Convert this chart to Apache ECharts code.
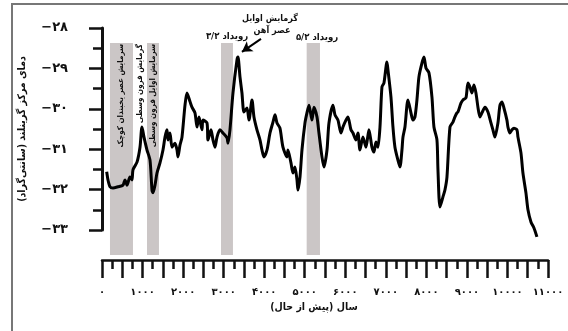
<!DOCTYPE html>
<html><head><meta charset="utf-8">
<script src="https://cdn.jsdelivr.net/npm/echarts@6/dist/echarts.min.js"></script>
<style>html,body{margin:0;padding:0;background:#fff}#c{width:568px;height:331px}</style>
</head><body><div id="c"></div>
<script>
// years before present
const years = [116,148,197,271,395,518,567,617,690,740,764,863,937,986,1036,1110,1184,1233,1258,1307,1356,1430,1504,1554,1603,1628,1677,1726,1800,1850,1874,1923,1973,2047,2096,2170,2219,2293,2343,2392,2466,2491,2589,2614,2688,2737,2787,2836,2910,2984,3083,3107,3156,3230,3329,3354,3403,3452,3502,3576,3625,3699,3748,3822,3896,3946,3995,4069,4143,4217,4266,4316,4389,4463,4562,4587,4661,4710,4759,4809,4833,4883,4932,5006,5055,5105,5179,5228,5302,5351,5425,5475,5549,5598,5696,5746,5820,5894,5943,6017,6066,6140,6190,6264,6313,6362,6436,6510,6584,6658,6707,6757,6806,6856,6905,6954,7028,7053,7127,7176,7225,7299,7349,7398,7423,7472,7546,7620,7669,7719,7768,7817,7891,7941,7990,8064,8138,8187,8261,8286,8335,8409,8458,8508,8582,8656,8705,8754,8779,8853,8902,8976,9026,9075,9124,9174,9223,9272,9321,9371,9445,9519,9593,9642,9691,9765,9815,9864,9913,9987,10012,10061,10111,10160,10234,10259,10333,10382,10456,10506,10580,10654,10727];
// central Greenland temperature (°C)
const temps = [-31.56,-31.76,-31.93,-31.96,-31.93,-31.89,-31.76,-31.89,-31.69,-31.76,-31.51,-31.32,-30.95,-30.45,-30.70,-31.02,-31.27,-32.01,-32.08,-31.89,-31.59,-31.34,-31.02,-30.70,-30.52,-30.77,-30.60,-30.95,-30.85,-31.02,-31.19,-30.90,-30.70,-29.91,-29.61,-29.82,-29.96,-30.10,-30.45,-30.20,-30.52,-30.28,-30.35,-30.77,-30.52,-30.77,-30.95,-30.70,-30.52,-30.60,-30.72,-30.85,-30.52,-29.61,-28.79,-28.72,-29.21,-29.61,-30.08,-29.98,-30.28,-29.78,-30.20,-30.52,-30.77,-31.02,-31.19,-31.02,-30.60,-30.33,-30.15,-30.35,-30.48,-30.95,-31.19,-31.02,-31.34,-31.59,-31.44,-31.76,-32.01,-31.69,-31.02,-30.35,-30.10,-29.91,-30.28,-29.96,-30.20,-30.60,-31.19,-31.44,-31.02,-30.35,-29.91,-30.15,-30.28,-30.60,-30.45,-30.28,-30.20,-30.52,-30.60,-30.77,-30.60,-31.02,-30.70,-30.95,-30.52,-30.95,-31.07,-30.82,-30.95,-30.45,-29.46,-29.36,-28.84,-29.04,-29.71,-30.45,-30.95,-31.27,-31.44,-31.02,-30.70,-30.45,-29.78,-30.10,-30.28,-30.20,-29.78,-29.21,-28.87,-28.72,-28.99,-29.11,-29.71,-30.45,-30.77,-31.51,-32.43,-32.18,-32.01,-31.69,-30.45,-30.33,-30.20,-30.10,-30.08,-29.86,-29.78,-29.73,-29.36,-29.46,-29.61,-29.41,-29.61,-29.96,-30.20,-30.10,-29.96,-30.08,-30.35,-30.52,-30.70,-30.35,-29.91,-29.83,-29.98,-30.28,-30.45,-30.60,-30.52,-30.48,-30.52,-30.70,-31.09,-31.59,-32.08,-32.50,-32.80,-32.95,-33.17];
// shaded periods (years BP)
const bandStart = [197, 1110, 2935, 5048];
const bandEnd = [764, 1405, 3230, 5376];
// arrow annotation (year, temp)
const arrowFrom = [3921, -28.27];
const arrowTo = [3452, -28.59];

const faDigits = '۰۱۲۳۴۵۶۷۸۹';
const toFa = n => String(n).replace(/\d/g, d => faDigits[+d]);
const FONT = 'DejaVu Sans';
const CFONT = 'DejaVu Sans Condensed';

const chart = echarts.init(document.getElementById('c'), null, {renderer: 'canvas'});
const txt = (x, y, text, size, rot) => ({
  type: 'text', x: x, y: y, rotation: rot || 0, z: 10,
  style: {text: text, fontFamily: CFONT, fontWeight: 'bold', fontSize: size, fill: '#111',
    align: rot ? 'right' : 'center', verticalAlign: 'middle'}
});

chart.setOption({
  animation: false,
  backgroundColor: '#fff',
  grid: [
    {left: 102, width: 446, top: 28, height: 202, containLabel: false},
    {left: 102, width: 446, top: 43, height: 212, containLabel: false}
  ],
  xAxis: [
    {type: 'value', gridIndex: 0, min: 0, max: 11000, interval: 500, offset: 30,
     name: 'سال (پیش از حال)', nameLocation: 'middle', nameGap: 41,
     nameTextStyle: {fontFamily: CFONT, fontWeight: 'bold', fontSize: 10.5, color: '#111', padding: [0, 22, 0, 0]},
     axisLine: {show: true, lineStyle: {color: '#111', width: 2.5}},
     axisTick: {show: true, length: 18, lineStyle: {color: '#111', width: 2.5}},
     minorTick: {show: true, splitNumber: 2, length: 9, lineStyle: {color: '#111', width: 2.5}},
     splitLine: {show: false},
     axisLabel: {margin: 27, fontFamily: FONT, fontWeight: 'bold', fontSize: 10, color: '#111',
       formatter: v => (v % 1000 === 0 ? toFa(v) : '')}},
    {type: 'value', gridIndex: 1, min: 0, max: 11000, show: false}
  ],
  yAxis: [
    {type: 'value', gridIndex: 0, min: -33, max: -28, interval: 1, offset: 16,
     name: 'دمای مرکز گرینلند (سانتی‌گراد)', nameLocation: 'middle', nameGap: 58,
     nameTextStyle: {fontFamily: CFONT, fontWeight: 'bold', fontSize: 10.5, color: '#111'},
     axisLine: {show: true, lineStyle: {color: '#111', width: 3}},
     axisTick: {show: true, length: 13, lineStyle: {color: '#111', width: 2.5}},
     minorTick: {show: true, splitNumber: 2, length: 9, lineStyle: {color: '#111', width: 2.5}},
     splitLine: {show: false},
     axisLabel: {margin: 18, fontFamily: FONT, fontWeight: 'bold', fontSize: 13, color: '#111',
       formatter: v => '−' + toFa(Math.abs(v))}},
    {type: 'value', gridIndex: 1, min: 0, max: 1, show: false}
  ],
  series: [
    {type: 'custom', xAxisIndex: 1, yAxisIndex: 1, z: 1, silent: true,
     data: bandStart.map((s, i) => [s, bandEnd[i]]),
     renderItem: (params, api) => {
       const p0 = api.coord([api.value(0), 1]);
       const p1 = api.coord([api.value(1), 0]);
       return {type: 'rect', shape: {x: p0[0], y: p0[1], width: p1[0] - p0[0], height: p1[1] - p0[1]},
         style: {fill: '#cbc6c6'}};
     }},
    {type: 'line', xAxisIndex: 0, yAxisIndex: 0, z: 3, clip: false, smooth: 0.25,
     showSymbol: false, symbol: 'none',
     lineStyle: {color: '#000', width: 3, join: 'round'},
     data: years.map((y, i) => [y, temps[i]]),
     markLine: {silent: true, symbol: ['none', 'arrow'], symbolSize: [9, 10],
       lineStyle: {color: '#000', width: 2, type: 'solid'}, label: {show: false},
       data: [[{coord: arrowFrom}, {coord: arrowTo}]]}}
  ],
  graphic: [
    {type: 'polyline', z: 10, shape: {points: [[12, 331], [12, 4], [568, 4]]},
     style: {stroke: '#777', lineWidth: 2, fill: null}},
    txt(270, 19, 'گرمایش اوایل', 9),
    txt(272, 31, 'عصر آهن', 9),
    txt(227, 37, 'رویداد ۳/۲', 9.5),
    txt(317, 38, 'رویداد ۵/۲', 9.5),
    txt(120.5, 44, 'سرمایش عصر یخبندان کوچک', 8, Math.PI / 2),
    txt(139.5, 44, 'گرمایش قرون وسطی', 8, Math.PI / 2),
    txt(153, 44, 'سرمایش اوایل قرون وسطی', 8, Math.PI / 2)
  ]
});
</script></body></html>
